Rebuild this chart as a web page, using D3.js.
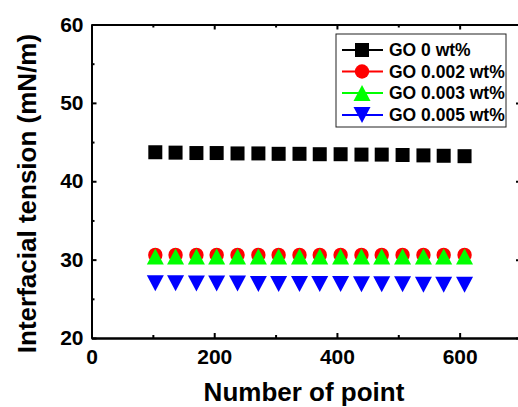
<!DOCTYPE html>
<html>
<head>
<meta charset="utf-8">
<script src="https://cdn.jsdelivr.net/npm/d3@7"></script>
<style>
  html, body { margin: 0; padding: 0; background: #fff; }
  svg { display: block; }
  text { font-family: "Liberation Sans", Arial, sans-serif; font-weight: bold; fill: #000; }
</style>
</head>
<body>
<svg id="chart" width="518" height="407"></svg>
<script>
// ---- data ----
const xPoints = [104, 137, 171, 204, 238, 272, 305, 339, 372, 406, 440, 473, 507, 541, 574, 608];
const go0     = [43.7, 43.65, 43.6, 43.6, 43.55, 43.55, 43.5, 43.5, 43.45, 43.45, 43.4, 43.4, 43.35, 43.3, 43.25, 43.2];
const go0002  = [30.6, 30.6, 30.6, 30.6, 30.6, 30.6, 30.6, 30.6, 30.6, 30.6, 30.6, 30.6, 30.6, 30.6, 30.6, 30.6];
const go0003  = [30.4, 30.4, 30.4, 30.4, 30.4, 30.4, 30.4, 30.4, 30.4, 30.4, 30.4, 30.4, 30.4, 30.4, 30.4, 30.4];
const go0005  = [27.0, 27.0, 26.95, 26.95, 26.95, 26.9, 26.9, 26.9, 26.9, 26.9, 26.85, 26.85, 26.85, 26.8, 26.8, 26.8];
const seriesNames = ["GO 0 wt%", "GO 0.002 wt%", "GO 0.003 wt%", "GO 0.005 wt%"];
const seriesColors = ["#000000", "#ff0000", "#00ff00", "#0000ff"];
const seriesShapes = ["square", "circle", "triangleUp", "triangleDown"];
const xTicks = [0, 200, 400, 600];
const xMinorTicks = [100, 300, 500];
const yTicks = [20, 30, 40, 50, 60];
const yMinorTicks = [25, 35, 45, 55];
const xTitle = "Number of point";
const yTitle = "Interfacial tension (mN/m)";

const allSeries = [go0, go0002, go0003, go0005];

const svg = d3.select("#chart");
svg.append("rect").attr("width", 518).attr("height", 407).attr("fill", "#fff");

const x = d3.scaleLinear().domain([0, 700]).range([91.5, 521]);
const y = d3.scaleLinear().domain([20, 60]).range([338, 24.5]);

function styleAxis(g) {
  g.attr("font-family", "'Liberation Sans', Arial, sans-serif").attr("font-size", 21);
  g.selectAll(".domain").attr("stroke", "#000").attr("stroke-width", 2);
  g.selectAll(".tick line").attr("stroke", "#000").attr("stroke-width", 2);
  g.selectAll(".tick text").attr("font-weight", "bold").attr("font-size", 21).attr("fill", "#000");
}

// bottom axis
const gx = svg.append("g").attr("transform", `translate(0,${y(20)})`)
  .call(d3.axisBottom(x).tickValues(xTicks).tickSize(-5).tickSizeOuter(0).tickPadding(11).tickFormat(d3.format("d")));
styleAxis(gx);
const gxm = svg.append("g").attr("transform", `translate(0,${y(20)})`)
  .call(d3.axisBottom(x).tickValues(xMinorTicks).tickSize(-3).tickSizeOuter(0).tickFormat(""));
styleAxis(gxm);
// top axis
const gt = svg.append("g").attr("transform", `translate(0,${y(60)})`)
  .call(d3.axisTop(x).tickValues(xTicks).tickSize(-5).tickSizeOuter(0).tickFormat(""));
styleAxis(gt);
const gtm = svg.append("g").attr("transform", `translate(0,${y(60)})`)
  .call(d3.axisTop(x).tickValues(xMinorTicks).tickSize(-3).tickSizeOuter(0).tickFormat(""));
styleAxis(gtm);
// left axis
const gy = svg.append("g").attr("transform", `translate(${x(0)},0)`)
  .call(d3.axisLeft(y).tickValues(yTicks).tickSize(-5).tickSizeOuter(0).tickPadding(8).tickFormat(d3.format("d")));
styleAxis(gy);
const gym = svg.append("g").attr("transform", `translate(${x(0)},0)`)
  .call(d3.axisLeft(y).tickValues(yMinorTicks).tickSize(-3).tickSizeOuter(0).tickFormat(""));
styleAxis(gym);
// right axis (mostly outside view)
const gr = svg.append("g").attr("transform", `translate(${x(700)},0)`)
  .call(d3.axisRight(y).tickValues(yTicks).tickSize(-5).tickSizeOuter(0).tickFormat(""));
styleAxis(gr);

// markers
function markerPath(shape) {
  if (shape === "square") return "M-7,-7H7V7H-7Z";
  if (shape === "circle") return d3.symbol(d3.symbolCircle, Math.PI * 7.2 * 7.2)();
  if (shape === "triangleUp") return "M0,-8L8.5,8L-8.5,8Z";
  return "M0,8L8.5,-8L-8.5,-8Z";
}

allSeries.forEach((vals, si) => {
  svg.append("g").selectAll("path")
    .data(vals.map((v, i) => [xPoints[i], v]))
    .join("path")
    .attr("d", markerPath(seriesShapes[si]))
    .attr("transform", d => `translate(${x(d[0])},${y(d[1])})`)
    .attr("fill", seriesColors[si]);
});

// axis titles
svg.append("text")
  .attr("x", 304).attr("y", 401)
  .attr("text-anchor", "middle")
  .attr("font-size", 26)
  .text(xTitle);
svg.append("text")
  .attr("transform", "translate(36,193.5) rotate(-90)")
  .attr("text-anchor", "middle")
  .attr("font-size", 26)
  .text(yTitle);

// legend
const lg = svg.append("g");
lg.append("rect").attr("x", 336).attr("y", 34).attr("width", 170).attr("height", 93)
  .attr("fill", "#fff").attr("stroke", "#222").attr("stroke-width", 1);
const legendY = [50, 71.5, 93, 115];
seriesNames.forEach((name, i) => {
  const row = lg.append("g").attr("transform", `translate(0,${legendY[i]})`);
  row.append("line").attr("x1", 342).attr("x2", 383).attr("y1", 0).attr("y2", 0)
    .attr("stroke", seriesColors[i]).attr("stroke-width", 2);
  row.append("path").attr("d", markerPath(seriesShapes[i]))
    .attr("transform", "translate(362,0)").attr("fill", seriesColors[i]);
  row.append("text").attr("x", 389).attr("y", 6).attr("font-size", 17.5).text(name);
});
</script>
</body>
</html>
